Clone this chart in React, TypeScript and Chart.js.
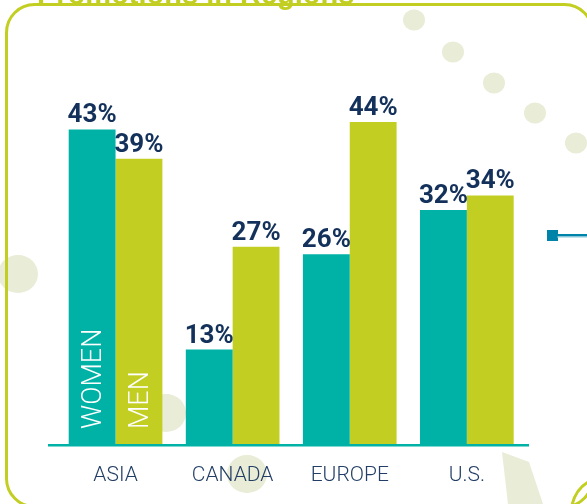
import React, { useEffect, useRef } from "react";
import { Chart, registerables } from "chart.js";

Chart.register(...registerables);

const categories = ["ASIA", "CANADA", "EUROPE", "U.S."];
const women = [43, 13, 26, 32];
const men = [39, 27, 44, 34];
const seriesNames = ["WOMEN", "MEN"];
const title = "Promotions in Regions";

const TEAL = "#00B2A6";
const LIME = "#C3CE23";
const NAVY = "#13315A";
const PALE = "#E9ECD6";
const MARKER = "#0083A9";
const FONT = 'Roboto, "Liberation Sans", sans-serif';

const decor = {
  id: "decor",
  beforeDraw(chart: any) {
    const ctx = chart.ctx;
    ctx.save();
    ctx.fillStyle = "#ffffff";
    ctx.fillRect(0, 0, chart.width, chart.height);
    ctx.fillStyle = PALE;
    const circles = [
      [414, 20, 11], [453, 52, 11], [494, 83, 11], [535, 113, 11], [576, 143, 11],
      [18, 274, 20], [166, 413, 20], [247, 474, 20],
    ];
    for (const [x, y, r] of circles) {
      ctx.beginPath();
      ctx.ellipse(x, y, r, r * 0.95, 0, 0, Math.PI * 2);
      ctx.fill();
    }
    ctx.beginPath();
    ctx.moveTo(502, 452);
    ctx.lineTo(529, 462);
    ctx.lineTo(543, 504);
    ctx.lineTo(508, 504);
    ctx.closePath();
    ctx.fill();
    // frame
    ctx.strokeStyle = LIME;
    ctx.lineWidth = 3;
    ctx.beginPath();
    ctx.roundRect(6.5, 4.5, 586, 502, 28);
    ctx.stroke();
    // bottom-right arc
    ctx.beginPath();
    ctx.moveTo(572, 505);
    ctx.quadraticCurveTo(576, 488, 590, 481);
    ctx.stroke();
    ctx.restore();
  },
  afterDatasetsDraw(chart: any) {
    const ctx = chart.ctx;
    const area = chart.chartArea;
    ctx.save();
    // baseline
    ctx.fillStyle = TEAL;
    ctx.fillRect(48, area.bottom - 1, 481, 2.5);
    // value labels
    ctx.fillStyle = NAVY;
    ctx.font = `bold 26px ${FONT}`;
    ctx.textAlign = "center";
    ctx.textBaseline = "alphabetic";
    chart.data.datasets.forEach((ds: any, di: number) => {
      const meta = chart.getDatasetMeta(di);
      meta.data.forEach((el: any, i: number) => {
        ctx.fillText(`${ds.data[i]}%`, el.x, el.y - 7);
      });
    });
    // vertical series names inside first category bars
    ctx.fillStyle = "#ffffff";
    ctx.font = `300 27px ${FONT}`;
    ctx.textAlign = "left";
    chart.data.datasets.forEach((ds: any, di: number) => {
      const el = chart.getDatasetMeta(di).data[0];
      ctx.save();
      ctx.translate(el.x + 9, area.bottom - 16);
      ctx.rotate(-Math.PI / 2);
      ctx.fillText(ds.label, 0, 0);
      ctx.restore();
    });
    // title (cut at top)
    ctx.fillStyle = LIME;
    ctx.font = 'bold 29px "Liberation Sans", Arial, sans-serif';
    ctx.textAlign = "left";
    ctx.fillText(title, 37, 4);
    // marker
    ctx.fillStyle = MARKER;
    ctx.fillRect(547, 230, 11, 11);
    ctx.fillRect(557, 234, 30, 2.5);
    ctx.fillStyle = "#8CC9DA";
    ctx.fillRect(557, 236.5, 30, 1);
    ctx.restore();
  },
};

export default function App() {
  const ref = useRef<HTMLCanvasElement>(null);
  useEffect(() => {
    document.body.style.margin = "0";
    const chart = new Chart(ref.current!, {
      type: "bar",
      data: {
        labels: categories,
        datasets: [
          { label: seriesNames[0], data: women, backgroundColor: TEAL, categoryPercentage: 0.8, barPercentage: 1 },
          { label: seriesNames[1], data: men, backgroundColor: LIME, categoryPercentage: 0.8, barPercentage: 1 },
        ],
      },
      options: {
        animation: false,
        responsive: false,
        devicePixelRatio: 1,
        layout: { padding: { left: 57, right: 61.6, top: 78, bottom: 0 } },
        plugins: { legend: { display: false }, tooltip: { enabled: false }, title: { display: false } },
        scales: {
          x: {
            grid: { display: false, drawTicks: false },
            border: { display: false },
            ticks: { color: "#223E66", font: { family: FONT, size: 21, weight: "300" }, padding: 18 },
            afterFit: (scale: any) => { scale.height = 59; },
          },
          y: { display: false, min: 0, max: 50 },
        },
      },
      plugins: [decor],
    });
    return () => chart.destroy();
  }, []);
  return (
    <div style={{ position: "absolute", left: 0, top: 0, width: 587, height: 504 }}>
      <canvas ref={ref} width={587} height={504} style={{ width: 587, height: 504 }} />
    </div>
  );
}
